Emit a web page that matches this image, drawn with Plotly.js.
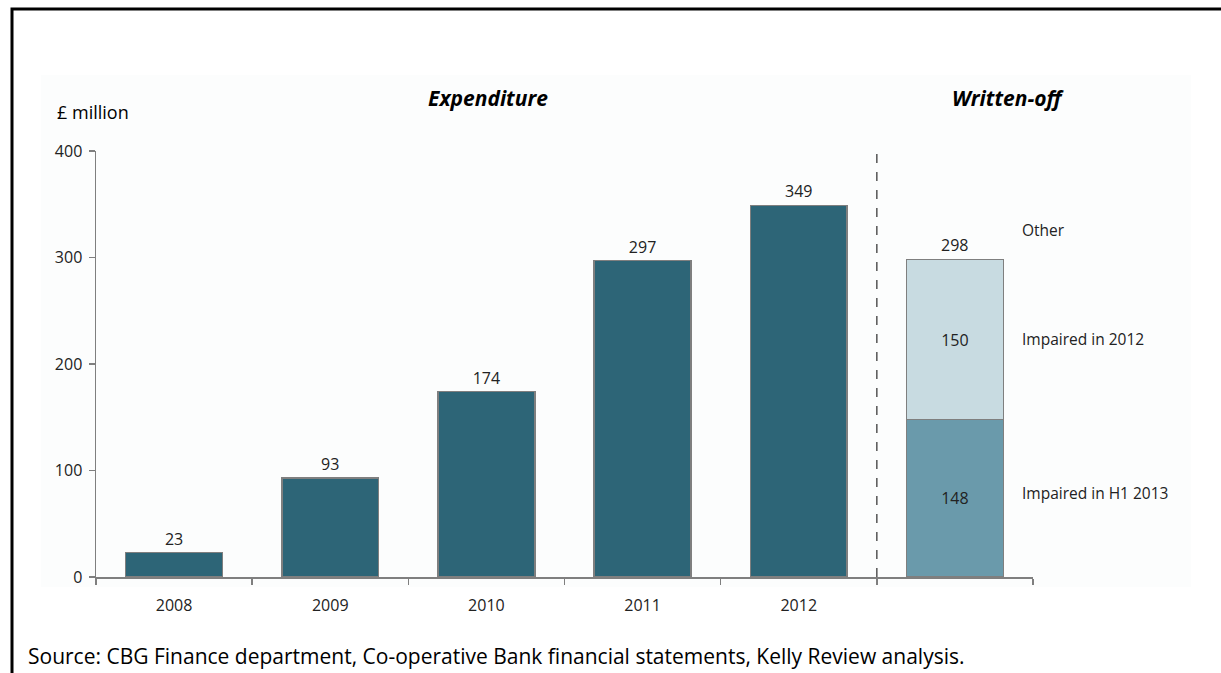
<!DOCTYPE html>
<html><head><meta charset="utf-8">
<script src="https://cdn.plot.ly/plotly-3.0.1.min.js"></script>
<style>html,body{margin:0;padding:0;background:#fff;}#chart{width:1221px;height:673px;}</style>
</head><body><div id="chart"></div>
<script>
var years = ['2008','2009','2010','2011','2012'];
var expenditure = [23, 93, 174, 297, 349];
var writtenCat = [' '];
var impairedH1 = [148];
var impaired2012 = [150];
var segmentNames = ['Impaired in H1 2013', 'Impaired in 2012', 'Other'];
var yTicks = [0, 100, 200, 300, 400];

var font = 'Open Sans, Lato, sans-serif';
var L = 96, R = 1033, T = 151, B = 577;
function px(x){ return (x - L) / (R - L); }
function py(y){ return (B - y) / (B - T); }

var total = impairedH1[0] + impaired2012[0];
var valFont = {family:font, size:16, color:'#222'};

var traces = [
  {type:'bar', x: years, y: expenditure, width:0.62,
   marker:{color:'#2d6577', line:{color:'#7f7f7f', width:1.5}},
   text: expenditure.map(String), textposition:'outside', cliponaxis:false,
   textfont:valFont, hoverinfo:'x+y', showlegend:false},
  {type:'bar', x: writtenCat, y: impairedH1, width:0.62, name: segmentNames[0],
   marker:{color:'#6a9aab', line:{color:'#7f7f7f', width:1.5}},
   text: impairedH1.map(String), textposition:'inside', insidetextanchor:'middle',
   textfont:valFont, showlegend:false},
  {type:'bar', x: writtenCat, y: impaired2012, width:0.62, name: segmentNames[1],
   marker:{color:'#c8dbe1', line:{color:'#7f7f7f', width:1.5}},
   text: impaired2012.map(String), textposition:'inside', insidetextanchor:'middle',
   textfont:valFont, showlegend:false}
];

function ann(x, y, text, size, color, xanchor){
  return {xref:'paper', yref:'paper', x:px(x), y:py(y), text:text, showarrow:false,
    xanchor:xanchor || 'center', yanchor:'middle', font:{family:font, size:size, color:color}};
}

var layout = {
  width:1221, height:673,
  margin:{l:L, r:1221-R, t:T, b:673-B, pad:0},
  paper_bgcolor:'#ffffff', plot_bgcolor:'rgba(0,0,0,0)',
  barmode:'stack', bargap:0.38,
  font:{family:font, size:16, color:'#222'},
  xaxis:{type:'category', categoryorder:'array', categoryarray: years.concat(writtenCat),
    tickson:'boundaries', ticks:'outside', ticklen:6, tickcolor:'#7f7f7f', tickwidth:1.5,
    showline:true, linecolor:'#7f7f7f', linewidth:1.5, showgrid:false, zeroline:false,
    ticklabelstandoff:13,
    tickfont:{family:font, size:16, color:'#222'}, fixedrange:true},
  yaxis:{range:[0,400], tickvals:yTicks, ticks:'outside', ticklen:6, tickcolor:'#7f7f7f', tickwidth:1.5,
    showline:true, linecolor:'#7f7f7f', linewidth:1.5, showgrid:false, zeroline:false,
    ticklabelstandoff:3,
    tickfont:{family:font, size:16, color:'#222'}, fixedrange:true},
  shapes:[
    {type:'rect', xref:'paper', yref:'paper', x0:px(41), x1:px(1191), y0:py(587), y1:py(75),
     fillcolor:'#fcfdfd', line:{width:0}, layer:'below'},
    {type:'rect', xref:'paper', yref:'paper', x0:px(12), x1:px(1240), y0:py(700), y1:py(9),
     fillcolor:'rgba(0,0,0,0)', line:{color:'#000', width:3}},
    {type:'line', xref:'x', yref:'y', x0:4.5, x1:4.5, y0:0, y1:429,
     line:{color:'#555', width:1.5, dash:'dash'}}
  ],
  annotations:[
    {xref:'x', yref:'y', x: writtenCat[0], y: total, text: String(total), showarrow:false,
     yanchor:'bottom', yshift:2, font:valFont},
    ann(488, 98, '<b><i>Expenditure</i></b>', 21, '#000'),
    ann(1008, 98, '<b><i>Written-off</i></b>', 21, '#000'),
    ann(55, 112, '£ million', 18, '#000', 'left'),
    ann(1020, 230, segmentNames[2], 15.5, '#222', 'left'),
    ann(1020, 339, segmentNames[1], 15.5, '#222', 'left'),
    ann(1020, 493, segmentNames[0], 15.5, '#222', 'left'),
    ann(26, 656, 'Source: CBG Finance department, Co-operative Bank financial statements, Kelly Review analysis.', 21, '#000', 'left')
  ]
};

Plotly.newPlot('chart', traces, layout, {displayModeBar:false, staticPlot:true});
</script></body></html>
